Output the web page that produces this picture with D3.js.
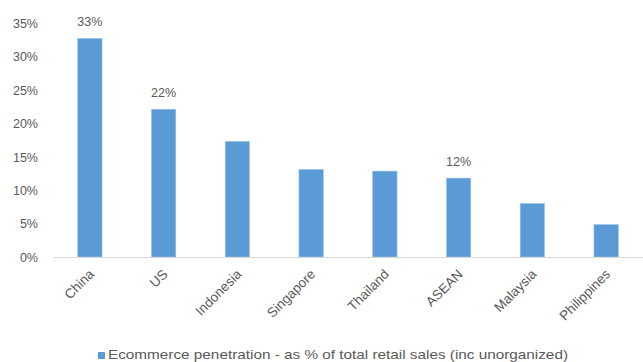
<!DOCTYPE html>
<html>
<head>
<meta charset="utf-8">
<script src="https://cdn.jsdelivr.net/npm/d3@7"></script>
<style>
  html, body { margin: 0; padding: 0; background: #fff; }
  svg { display: block; }
  text { font-family: "Liberation Sans", "DejaVu Sans", sans-serif; fill: #595959; }
</style>
</head>
<body>
<svg id="chart" width="643" height="362"></svg>
<script>
const categories = ["China", "US", "Indonesia", "Singapore", "Thailand", "ASEAN", "Malaysia", "Philippines"];
const values = [32.7, 22.1, 17.3, 13.1, 12.85, 11.8, 8.0, 4.85];
const dataLabels = ["33%", "22%", "", "", "", "12%", "", ""];
const yTicks = [0, 5, 10, 15, 20, 25, 30, 35];
const seriesName = "Ecommerce penetration - as % of total retail sales (inc unorganized)";

(function () {
const svg = d3.select("#chart");
const mLeft = 53, mRight = 643, mTop = 23, mBottom = 257;

const x = d3.scaleBand().domain(categories).range([mLeft, mRight]).paddingInner(0.67).paddingOuter(0.335);
const y = d3.scaleLinear().domain([0, 35]).range([mBottom, mTop]);

// Y axis labels
const yAxis = d3.axisLeft(y).tickValues(yTicks).tickFormat(d => d + "%").tickSize(0).tickPadding(0);
const gy = svg.append("g").attr("transform", "translate(38,0)").call(yAxis);
gy.attr("font-family", null);
gy.select(".domain").remove();
gy.selectAll("text").style("font-size", "12.5px").style("fill", "#595959").attr("dy", "0.35em");

// Bars
svg.append("g").selectAll("rect").data(values).join("rect")
  .attr("x", (d, i) => x(categories[i]))
  .attr("y", d => y(d))
  .attr("width", x.bandwidth())
  .attr("height", d => y(0) - y(d))
  .attr("fill", "#5b9bd5")
  .attr("stroke", "#9dc3e6")
  .attr("stroke-width", 0.6);

// X axis
const xAxis = d3.axisBottom(x).tickSize(0).tickPadding(0);
const gx = svg.append("g").attr("transform", `translate(0,${mBottom})`).call(xAxis);
gx.attr("font-family", null);
gx.select(".domain").attr("stroke", "#d9d9d9").attr("stroke-width", 1.2);
gx.selectAll("text")
  .style("font-size", "13.5px")
  .style("fill", "#595959")
  .attr("text-anchor", "end")
  .attr("dy", null)
  .attr("y", null)
  .attr("transform", "translate(5,18) rotate(-45)");

// Data labels
svg.append("g").selectAll("text").data(values).join("text")
  .attr("x", (d, i) => x(categories[i]) + x.bandwidth() / 2)
  .attr("y", d => y(d) - 12)
  .attr("text-anchor", "middle")
  .style("font-size", "12.5px")
  .text((d, i) => dataLabels[i]);

// Legend
const lg = svg.append("g");
lg.append("rect").attr("x", 98).attr("y", 352).attr("width", 7).attr("height", 7).attr("fill", "#5b9bd5");
lg.append("text").attr("x", 108).attr("y", 359)
  .style("font-size", "13px")
  .attr("textLength", 460).attr("lengthAdjust", "spacingAndGlyphs")
  .text(seriesName);
})();
</script>
</body>
</html>
